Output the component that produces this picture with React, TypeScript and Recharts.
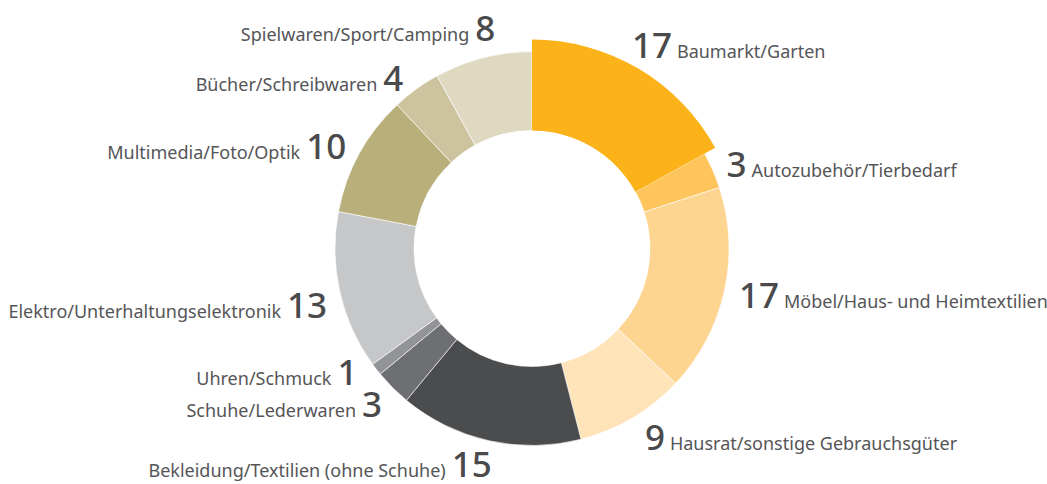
import React from "react";
import { PieChart, Pie, Cell } from "recharts";

const categories = [
  "Baumarkt/Garten",
  "Autozubehör/Tierbedarf",
  "Möbel/Haus- und Heimtextilien",
  "Hausrat/sonstige Gebrauchsgüter",
  "Bekleidung/Textilien (ohne Schuhe)",
  "Schuhe/Lederwaren",
  "Uhren/Schmuck",
  "Elektro/Unterhaltungselektronik",
  "Multimedia/Foto/Optik",
  "Bücher/Schreibwaren",
  "Spielwaren/Sport/Camping",
];

const shares = [17, 3, 17, 9, 15, 3, 1, 13, 10, 4, 8];

const colors = [
  "#fcb219",
  "#fdc55b",
  "#fdd490",
  "#fee4b8",
  "#4b4c4e",
  "#6e6f72",
  "#939497",
  "#c6c7c9",
  "#b8af7b",
  "#cdc49f",
  "#dfd9c2",
];

// small hand tweaks so labels sit where the original has them
const labelNudge: Record<string, [number, number]> = {
  "Baumarkt/Garten": [-8, -21],
  "Hausrat/sonstige Gebrauchsgüter": [5, 6],
  "Bekleidung/Textilien (ohne Schuhe)": [6, 9],
  "Schuhe/Lederwaren": [0, 6],
  "Uhren/Schmuck": [-7, -6],
  "Elektro/Unterhaltungselektronik": [2, 10],
  "Bücher/Schreibwaren": [-4, 1],
  "Spielwaren/Sport/Camping": [16, -15],
};

const data = categories.map((name, i) => ({ name, value: shares[i] }));

const RAD = Math.PI / 180;

function renderLabel(props: any) {
  const { cx, cy, midAngle, outerRadius, name, value } = props;
  const r = outerRadius + 15;
  const [nx, ny] = labelNudge[name] || [0, 0];
  const x = cx + r * Math.cos(-midAngle * RAD) + nx;
  const y = cy + r * Math.sin(-midAngle * RAD) + ny + 13;
  const right = Math.cos(-midAngle * RAD) >= 0;
  const numStyle = { fontSize: 35, fontWeight: 500, fill: "#4a4a4c" };
  const txtStyle = { fontSize: 18, fill: "#555557" };
  return (
    <text
      x={x}
      y={y}
      textAnchor={right ? "start" : "end"}
      fontFamily="'Noto Sans', sans-serif"
    >
      {right ? (
        <>
          <tspan {...numStyle}>{value}</tspan>
          <tspan {...txtStyle} dx={5}>
            {name}
          </tspan>
        </>
      ) : (
        <>
          <tspan {...txtStyle}>{name}</tspan>
          <tspan {...numStyle} dx={6}>
            {value}
          </tspan>
        </>
      )}
    </text>
  );
}

export default function App() {
  return (
    <div style={{ position: "absolute", left: 0, top: 0, background: "#fff" }}>
      <PieChart width={1047} height={484} margin={{ top: 0, right: 0, bottom: 0, left: 0 }}>
        <Pie
          data={data}
          dataKey="value"
          nameKey="name"
          cx={532}
          cy={248.5}
          innerRadius={118}
          outerRadius={197}
          startAngle={90}
          endAngle={-270}
          stroke="#ffffff"
          strokeWidth={0.6}
          label={renderLabel}
          labelLine={false}
          isAnimationActive={false}
        >
          {data.map((d, i) => (
            <Cell key={d.name} fill={colors[i]} />
          ))}
        </Pie>
        {/* the first slice is drawn a bit wider */}
        <Pie
          data={data}
          dataKey="value"
          nameKey="name"
          cx={532}
          cy={248.5}
          innerRadius={118}
          outerRadius={209}
          startAngle={90}
          endAngle={-270}
          stroke="none"
          isAnimationActive={false}
        >
          {data.map((d, i) => (
            <Cell key={d.name} fill={i === 0 ? colors[0] : "transparent"} />
          ))}
        </Pie>
      </PieChart>
    </div>
  );
}
